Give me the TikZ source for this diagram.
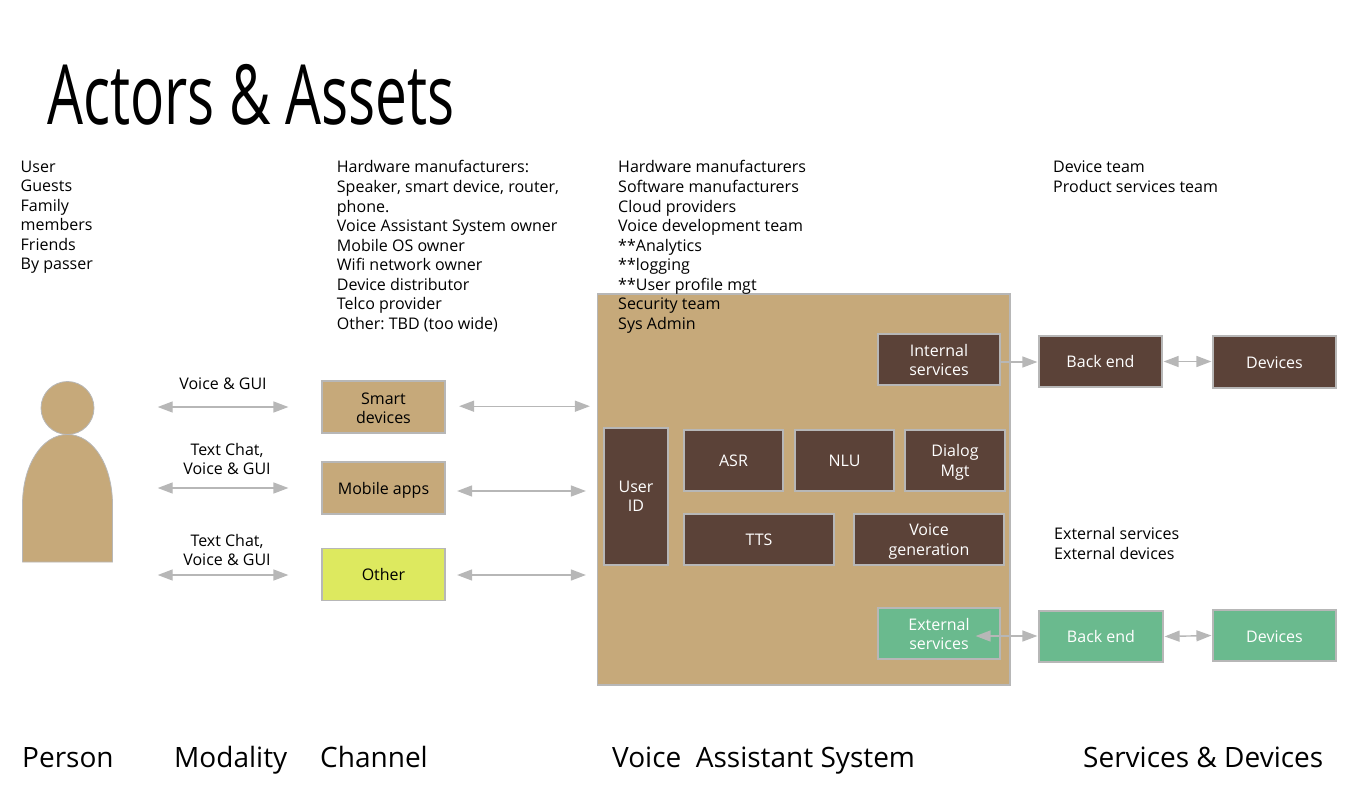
\documentclass[tikz,border=0pt]{standalone}
\usepackage{fontspec}
\setmainfont{Open Sans}
\newfontfamily\titlefont[FakeStretch=0.684]{Open Sans}
\usetikzlibrary{arrows.meta}
\definecolor{tan}{HTML}{C6A97A}
\definecolor{brownbox}{HTML}{5B4238}
\definecolor{greenbox}{HTML}{6ABA8E}
\definecolor{yellowbox}{HTML}{DDE95F}
\definecolor{edge}{HTML}{B7B7B7}
\newcommand\dn[1]{\rule{0pt}{#1pt}}
\tikzset{
  box/.style={draw=edge,line width=1.2pt,inner sep=0pt,align=center,font=\frenchspacing\fontsize{16}{19.4}\selectfont},
  tanbox/.style={box,fill=tan,text=black},
  yellowb/.style={box,fill=yellowbox,text=black},
  brownb/.style={box,fill=brownbox,text=white},
  greenb/.style={box,fill=greenbox,text=white},
  wh/.style 2 args={minimum width=#1 pt,minimum height=#2 pt},
  note/.style={anchor=north west,inner sep=0pt,align=left,font=\frenchspacing\fontsize{16.03}{19.56}\selectfont},
  midnote/.style={inner sep=0pt,align=center,font=\frenchspacing\fontsize{16}{19.4}\selectfont},
  footer/.style={anchor=base west,inner sep=0pt,font=\fontsize{28}{32}\selectfont},
  biarrow/.style={draw=edge,line width=1.4pt,{Triangle[length=15pt,width=11pt]}-{Triangle[length=15pt,width=11pt]}},
  oneway/.style={draw=edge,line width=1.4pt,-{Triangle[length=15pt,width=11pt]}},
}
\begin{document}
\begin{tikzpicture}[x=1pt,y=-1pt]
\useasboundingbox (0,0) rectangle (1366,785);
% title
\node[anchor=base west,inner sep=0pt,font=\titlefont\fontsize{83}{90}\selectfont] (title) at (47,124) {Actors \& Assets};
% person
\fill[tan,draw=edge,line width=0.8pt] (22.5,562) -- (22.5,505) .. controls (22.5,465) and (42,434.5) .. (67.5,434.5) .. controls (93,434.5) and (112.5,465) .. (112.5,505) -- (112.5,562) -- cycle;
\node[circle,fill=tan,draw=edge,line width=0.8pt,minimum size=53pt,inner sep=0pt] (head) at (67.5,408) {};
\node[inner sep=0pt,minimum width=90pt,minimum height=128pt] (person) at (67.5,498) {};
% top notes
\node[note] (n1) at (20.5,160.5) {User\\Guests\\Family\\members\\Friends\\By passer};
\node[note] (n2) at (336.7,160.5) {Hardware manufacturers:\\Speaker, smart device, router,\\phone.\\Voice Assistant System owner\\Mobile OS owner\\Wifi network owner\\Device distributor\\Telco provider\\Other: TBD (too wide)};
% VAS
\node[tanbox,wh={412.5}{391}] (vas) at (803.75,489.5) {};
\node[note] (n3) at (618,160.5) {Hardware manufacturers\\Software manufacturers\\Cloud providers\\Voice development team\\**Analytics\\**logging\\**User profile mgt\\Security team\\Sys Admin};
\node[note] (n4) at (1053,160.5) {Device team\\Product services team};
\node[note] (n5) at (1054,527.5) {External services\\External devices};
% channels
\node[tanbox,wh={123}{52}] (smart) at (383.5,407) {\dn{14}Smart\\devices};
\node[tanbox,wh={123}{52}] (mobile) at (383.5,488) {\dn{16}Mobile apps};
\node[yellowb,wh={123}{52}] (other) at (383.5,574.5) {\raisebox{1pt}{Other}};
% modality labels
\node[midnote] (m1) at (223,384) {Voice \& GUI};
\node[midnote] (m2) at (227,459) {Text Chat,\\Voice \& GUI};
\node[midnote] (m3) at (227,550) {Text Chat,\\Voice \& GUI};
% VAS inner
\node[brownb,wh={64}{137}] (uid) at (636,496.5) {User\\ID};
\node[brownb,wh={99}{61}] (asr) at (733.5,460.5) {ASR};
\node[brownb,wh={99}{61}] (nlu) at (844.5,460.5) {NLU};
\node[brownb,wh={100}{61}] (dlg) at (955,460.5) {\dn{16}Dialog\\Mgt};
\node[brownb,wh={150}{51}] (tts) at (759,539.5) {TTS};
\node[brownb,wh={150}{51}] (vgen) at (929,539.5) {\dn{15.5}Voice\\generation};
\node[brownb,wh={122}{51}] (int) at (939,359.5) {\dn{13.5}Internal\\services};
\node[greenb,wh={122}{51}] (ext) at (939,633.5) {\dn{13.5}External\\services};
% services
\node[brownb,wh={123}{51}] (be1) at (1100.5,361.5) {Back end};
\node[brownb,wh={123}{52}] (dev1) at (1274.5,362) {\dn{14}Devices};
\node[greenb,wh={124}{51}] (be2) at (1101,636.5) {Back end};
\node[greenb,wh={123}{51}] (dev2) at (1274.5,635.5) {\dn{14}Devices};
% connectors
\draw[biarrow,shorten <=45pt,shorten >=33pt] (person.east |- smart.west) -- (smart.west);
\draw[biarrow,shorten <=45pt,shorten >=33pt] (person.east |- mobile.west) -- (mobile.west);
\draw[biarrow,shorten <=45pt,shorten >=33pt] ([yshift=-0.5pt]person.east |- other.west) -- ([yshift=-0.5pt]other.west);
\draw[biarrow,shorten <=13.5pt,shorten >=7pt] ([yshift=0.8pt]smart.east) -- ([yshift=0.8pt]smart.east -| vas.west);
\draw[biarrow,shorten <=11.5pt,shorten >=11pt] ([yshift=-3pt]mobile.east) -- ([yshift=-3pt]mobile.east -| vas.west);
\draw[biarrow,shorten <=11.5pt,shorten >=11pt] ([yshift=-0.5pt]other.east) -- ([yshift=-0.5pt]other.east -| vas.west);
\draw[oneway,shorten >=1pt] ([yshift=-2.5pt]int.east) -- ([yshift=-2.5pt]int.east -| be1.west);
\draw[biarrow,shorten <=1pt,shorten >=1pt] (be1.east) -- (be1.east -| dev1.west);
\draw[biarrow,shorten >=1pt] ([xshift=-25pt,yshift=-2.5pt]ext.east) -- ([yshift=-2.5pt]ext.east -| be2.west);
\draw[biarrow,shorten <=1pt,shorten >=1pt] (be2.east) -- (dev2.west);
% footers
\node[footer] (f1) at (22,767) {Person};
\node[footer] (f2) at (174,767) {Modality};
\node[footer] (f3) at (320,767) {Channel};
\node[footer] (f4) at (612,767) {Voice\ \ Assistant System};
\node[footer] (f5) at (1083,767) {Services \& Devices};
\end{tikzpicture}
\end{document}
